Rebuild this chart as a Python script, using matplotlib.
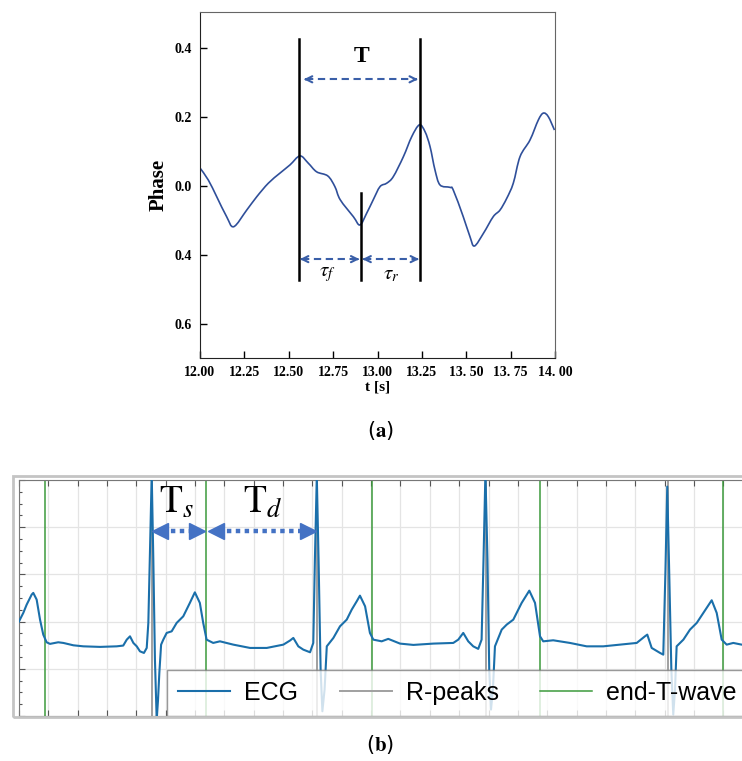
import matplotlib
matplotlib.use('Agg')
import matplotlib.pyplot as plt
from matplotlib.patches import Rectangle, PathPatch
from matplotlib.path import Path
from matplotlib.ticker import MultipleLocator

plt.rcParams['mathtext.fontset'] = 'stix'

# ---------- panel (a): phase signal ----------
t_phase = [12.000, 12.047, 12.094, 12.150, 12.190, 12.263, 12.320, 12.385, 12.450, 12.507,
           12.563, 12.610, 12.657, 12.720, 12.760, 12.790, 12.864, 12.901, 12.939, 12.976,
           13.014, 13.052, 13.089, 13.146, 13.193, 13.236, 13.268, 13.296, 13.324, 13.352,
           13.408, 13.427, 13.483, 13.521, 13.546, 13.597, 13.652, 13.690, 13.728, 13.765,
           13.803, 13.859, 13.906, 13.934, 13.962, 13.997]
phase = [0.052, 0.017, -0.031, -0.089, -0.118, -0.070, -0.031, 0.008, 0.037, 0.061,
         0.087, 0.066, 0.041, 0.029, -0.002, -0.040, -0.089, -0.113, -0.079, -0.040,
         -0.002, 0.008, 0.027, 0.085, 0.143, 0.177, 0.157, 0.114, 0.046, 0.003,
         -0.004, -0.012, -0.089, -0.147, -0.174, -0.137, -0.089, -0.070, -0.036, 0.008,
         0.085, 0.133, 0.191, 0.211, 0.201, 0.162]
phase_yticks = [0.4, 0.2, 0.0, -0.2, -0.4]
phase_ylabels = ['0.4', '0.2', '0.0', '0.4', '0.6']
phase_xticks = [12.00, 12.25, 12.50, 12.75, 13.00, 13.25, 13.50, 13.75, 14.00]
phase_xlabels = ['12.00', '12.25', '12.50', '12.75', '13.00', '13.25', '13. 50', '13. 75', '14. 00']
t_peak1, t_trough, t_peak2 = 12.56, 12.905, 13.238

# ---------- panel (b): ECG ----------
t_ecg = [0.000, 0.030, 0.053, 0.087, 0.098, 0.121, 0.144, 0.166, 0.189, 0.212,
         0.268, 0.303, 0.371, 0.439, 0.553, 0.666, 0.711, 0.735, 0.757, 0.780,
         0.803, 0.825, 0.852, 0.871, 0.882, 0.895, 0.905, 0.916, 0.927, 0.939,
         0.948, 0.957, 0.969, 0.984, 1.007, 1.041, 1.075, 1.120, 1.165, 1.199,
         1.233, 1.256, 1.279, 1.324, 1.370, 1.461, 1.575, 1.689, 1.802, 1.847,
         1.870, 1.904, 1.938, 1.984, 2.006, 2.017, 2.030, 2.042, 2.056, 2.068,
         2.083, 2.098, 2.143, 2.188, 2.234, 2.268, 2.302, 2.324, 2.359, 2.392,
         2.415, 2.472, 2.517, 2.597, 2.688, 2.824, 2.960, 2.994, 3.028, 3.062,
         3.096, 3.130, 3.153, 3.166, 3.179, 3.193, 3.205, 3.217, 3.230, 3.244,
         3.290, 3.324, 3.369, 3.426, 3.478, 3.517, 3.551, 3.573, 3.641, 3.755,
         3.869, 3.982, 4.096, 4.210, 4.266, 4.282, 4.312, 4.369, 4.391, 4.406,
         4.418, 4.431, 4.446, 4.459, 4.471, 4.482, 4.528, 4.573, 4.619, 4.664,
         4.721, 4.755, 4.789, 4.823, 4.868, 4.925, 4.980]
ecg = [0.000, 0.092, 0.180, 0.286, 0.304, 0.233, 0.021, -0.138, -0.219, -0.236,
       -0.219, -0.226, -0.251, -0.262, -0.268, -0.262, -0.254, -0.191, -0.156, -0.226,
       -0.262, -0.315, -0.332, -0.279, -0.014, 0.869, 1.560, 0.657, -0.403, -1.040,
       -0.830, -0.543, -0.244, -0.191, -0.120, -0.103, -0.014, 0.056, 0.198, 0.310,
       0.198, -0.014, -0.191, -0.226, -0.209, -0.244, -0.279, -0.279, -0.244, -0.201,
       -0.173, -0.262, -0.297, -0.325, -0.226, 0.657, 1.540, 0.657, -0.508, -0.950,
       -0.720, -0.262, -0.173, -0.050, 0.021, 0.127, 0.215, 0.275, 0.162, -0.120,
       -0.191, -0.209, -0.183, -0.233, -0.247, -0.233, -0.226, -0.191, -0.120, -0.209,
       -0.262, -0.289, -0.191, 0.657, 1.580, 0.657, -0.508, -0.932, -0.720, -0.262,
       -0.085, -0.032, 0.021, 0.198, 0.328, 0.198, -0.156, -0.209, -0.198, -0.226,
       -0.262, -0.262, -0.244, -0.226, -0.156, -0.138, -0.279, -0.332, -0.350, 0.551,
       1.430, 0.551, -0.508, -0.985, -0.720, -0.262, -0.191, -0.085, -0.014, 0.092,
       0.226, 0.092, -0.191, -0.244, -0.226, -0.244, -0.240]
r_peaks = [0.907, 2.031, 3.183, 4.421]
t_wave_ends = [0.178, 1.275, 2.406, 3.553, 4.796]


def smooth_path(xs, ys):
    # Catmull-Rom through the read points, drawn as cubic Bezier segments
    n = len(xs)
    verts = [(xs[0], ys[0])]
    codes = [Path.MOVETO]
    for i in range(n - 1):
        x0, y0 = xs[max(i - 1, 0)], ys[max(i - 1, 0)]
        x1, y1 = xs[i], ys[i]
        x2, y2 = xs[i + 1], ys[i + 1]
        x3, y3 = xs[min(i + 2, n - 1)], ys[min(i + 2, n - 1)]
        verts += [(x1 + (x2 - x0) / 6, y1 + (y2 - y0) / 6),
                  (x2 - (x3 - x1) / 6, y2 - (y3 - y1) / 6),
                  (x2, y2)]
        codes += [Path.CURVE4] * 3
    return Path(verts, codes)


fig = plt.figure(figsize=(7.42, 7.61), dpi=100)
W, H = 742.0, 761.0

# panel (a)
ax1 = fig.add_axes([200 / W, 1 - 357.5 / H, 355 / W, 345.5 / H])
ax1.add_patch(PathPatch(smooth_path(t_phase, phase), facecolor='none',
                        edgecolor='#2f4f9a', lw=1.2))
ax1.set_xlim(12.0, 14.0)
ax1.set_ylim(-0.497, 0.504)
ax1.set_xticks(phase_xticks)
ax1.set_xticklabels(phase_xlabels)
ax1.set_yticks(phase_yticks)
ax1.set_yticklabels(phase_ylabels)
ax1.tick_params(direction='in', length=5, width=1, top=False, right=False, pad=6)
for lab in ax1.get_xticklabels() + ax1.get_yticklabels():
    lab.set_fontfamily('Liberation Serif')
    lab.set_fontweight('bold')
    lab.set_fontsize(10)
for s in ['left', 'bottom']:
    ax1.spines[s].set_color('#222222')
for s in ['top', 'right']:
    ax1.spines[s].set_color('#666666')
ax1.set_xlabel('t [s]', family='Liberation Serif', weight='bold', fontsize=11, labelpad=1)
ax1.set_ylabel('Phase', family='Liberation Serif', weight='bold', fontsize=15, labelpad=4)

# vertical markers
ax1.plot([t_peak1, t_peak1], [-0.272, 0.426], color='black', lw=1.8)
ax1.plot([t_peak2, t_peak2], [-0.272, 0.426], color='black', lw=1.8)
ax1.plot([t_trough, t_trough], [-0.272, -0.021], color='black', lw=1.8)

arrow_c = '#3a5fa8'


def dashed_arrow(ax, x0, x1, y):
    ax.plot([x0 + 0.01, x1 - 0.01], [y, y], color=arrow_c, lw=1.5, ls=(0, (3.5, 2.2)))
    ax.annotate('', xy=(x0, y), xytext=(x0 + 0.03, y),
                arrowprops=dict(arrowstyle='->', color=arrow_c, lw=1.5, mutation_scale=11))
    ax.annotate('', xy=(x1, y), xytext=(x1 - 0.03, y),
                arrowprops=dict(arrowstyle='->', color=arrow_c, lw=1.5, mutation_scale=11))


dashed_arrow(ax1, 12.585, 13.228, 0.309)
dashed_arrow(ax1, 12.563, 12.898, -0.212)
dashed_arrow(ax1, 12.915, 13.234, -0.212)
ax1.text(12.91, 0.375, 'T', family='Liberation Serif', weight='bold', fontsize=17,
         ha='center', va='center')
ax1.text(12.72, -0.256, r'$\tau_f$', fontsize=15, ha='center', va='center')
ax1.text(13.076, -0.256, r'$\tau_r$', fontsize=15, ha='center', va='center')

fig.text(380 / W, 1 - 431 / H, r'($\mathbf{a}$)', fontsize=15, ha='center', va='center')

# panel (b)
fig.patches.append(Rectangle((13 / W, 1 - 717 / H), 760 / W, 241 / H, transform=fig.transFigure,
                             fill=False, edgecolor='#c4c4c4', lw=2))
ax2 = fig.add_axes([18.9 / W, 1 - 716 / H, (760 - 18.9) / W, 236 / H])
ax2.set_xlim(0, (760 - 18.9) / 146.75)
ax2.set_ylim(-1.0, 1.5)
ax2.xaxis.set_major_locator(MultipleLocator(0.2))
ax2.yaxis.set_major_locator(MultipleLocator(0.5))
ax2.yaxis.set_minor_locator(MultipleLocator(0.125))
ax2.grid(True, which='major', color='#e4e4e4', lw=0.9)
ax2.set_axisbelow(True)
ax2.tick_params(which='both', direction='in', top=True, right=False, labelleft=False,
                labelbottom=False, color='#555555')
ax2.tick_params(which='major', length=4, width=0.8)
ax2.tick_params(which='minor', length=2.5, width=0.8)
for s in ax2.spines.values():
    s.set_color('#777777')

ax2.plot(t_ecg, ecg, color='#1a6faa', lw=1.5, label='ECG', zorder=3)
for i, r in enumerate(r_peaks):
    ax2.axvline(r, color='#a0a0a0', lw=1.4, zorder=2, label='R-peaks' if i == 0 else None)
for i, e in enumerate(t_wave_ends):
    ax2.axvline(e, color='#3c9a3c', lw=1.1, zorder=2, label='end-T-wave' if i == 0 else None)

bar_c = '#4472c4'


def dotted_arrow(ax, x0, x1, y):
    ax.plot([x0 + 0.06, x1 - 0.06], [y, y], color=bar_c, lw=3.2, ls=(0, (1, 1)),
            dash_capstyle='butt', zorder=5)
    ax.plot([x0 + 0.045], [y], marker='<', color=bar_c, ms=11, zorder=5)
    ax.plot([x1 - 0.045], [y], marker='>', color=bar_c, ms=11, zorder=5)


dotted_arrow(ax2, 0.914, 1.261, 0.957)
dotted_arrow(ax2, 1.295, 2.018, 0.957)
ax2.text(1.071, 1.26, r'$\mathrm{T}_s$', fontsize=27, ha='center', va='center', zorder=6)
ax2.text(1.663, 1.26, r'$\mathrm{T}_d$', fontsize=27, ha='center', va='center', zorder=6)

leg = ax2.legend(loc='lower left', bbox_to_anchor=((167 - 18.9) / (760 - 18.9), 0.0), ncol=3,
                 frameon=True, fancybox=False, framealpha=0.8, edgecolor='#808080',
                 borderaxespad=0, borderpad=0.45, handlelength=2.08, handletextpad=0.56,
                 columnspacing=1.65, prop={'family': 'Liberation Sans', 'size': 18})
leg.get_frame().set_linewidth(1.0)
leg.set_zorder(10)

fig.text(380 / W, 1 - 745 / H, r'($\mathbf{b}$)', fontsize=15, ha='center', va='center')

fig.savefig('out.png', dpi=100)
